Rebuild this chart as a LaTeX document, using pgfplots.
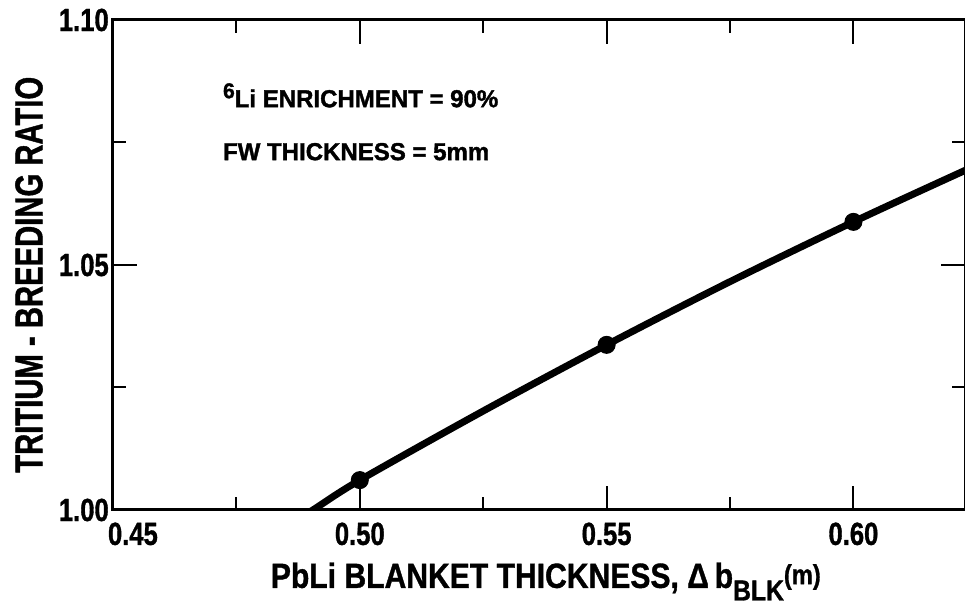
\documentclass[border=0pt]{standalone}
\usepackage{pgfplots}
\pgfplotsset{compat=1.18}
\usepackage{fontspec}
\setmainfont{Liberation Sans}[FakeStretch=0.75, BoldFeatures={FakeBold=1}]
\newfontfamily\tickfont{Liberation Sans}[FakeStretch=0.8, BoldFeatures={FakeBold=1}]
\newfontfamily\xlabfont{Liberation Sans}[FakeStretch=0.86, BoldFeatures={FakeBold=1}]
\newfontfamily\notefont{Liberation Sans}[FakeStretch=0.98, BoldFeatures={FakeBold=1.5}]
\begin{document}
\begin{tikzpicture}
\path[use as bounding box] (-45.2pt,-38.4pt) rectangle (340.8pt,204pt);
\begin{axis}[
  at={(0,0)}, anchor=south west,
  width=340.8pt, height=196pt, scale only axis,
  xmin=0.45, xmax=0.6226, ymin=1.0, ymax=1.10,
  xtick={0.45,0.50,0.55,0.60},
  xticklabels={{\makebox[0pt][l]{\hspace{-2pt}0.45}},0.50,0.55,0.60},
  ytick={1.00,1.05,1.10},
  yticklabels={1.00,1.05,1.10},
  minor tick num=1,
  tick align=inside,
  major tick length=9.6pt, minor tick length=5.2pt,
  every tick/.style={black, line width=0.8pt},
  axis line style={line width=1.2pt},
  /pgf/number format/assume math mode=true,
  ticklabel style={font=\tickfont\fontsize{12.8}{14}\selectfont\bfseries},
  xticklabel style={yshift=-1.5pt},
  yticklabel style={inner sep=1.5pt},
  clip=true,
  xlabel={PbLi BLANKET THICKNESS, Δ\,b\raisebox{-5pt}{\fontsize{11.5}{12}\selectfont BLK}\raisebox{1.5pt}{\fontsize{11}{12}\selectfont(m)}},
  xlabel style={at={(axis description cs:0.508,-0.159)}, anchor=base, font=\xlabfont\fontsize{14}{16}\selectfont\bfseries},
  ylabel={TRITIUM - BREEDING RATIO},
  ylabel style={at={(axis description cs:-0.0986,0.48)}, anchor=center, rotate=0, font=\fontsize{15.6}{17}\selectfont\bfseries},
]
\addplot[black, line width=2.8pt, smooth, tension=0.5] coordinates {
  (0.4880,0.9985) (0.4905,1.0000) (0.5000,1.0061) (0.5250,1.0202) (0.5500,1.0337)
  (0.5750,1.0466) (0.6000,1.0588) (0.6226,1.0693) (0.6240,1.0699)
};
\addplot[only marks, mark=*, mark size=3.4pt, black] coordinates {
  (0.50,1.0061) (0.55,1.0337) (0.60,1.0588)
};
\node[anchor=base west, font=\notefont\fontsize{9.8}{11}\selectfont\bfseries, inner sep=0pt]
  at (axis cs:0.4722,1.0822) {\raisebox{3.6pt}{\fontsize{8.6}{10}\selectfont 6}Li ENRICHMENT = 90\%};
\node[anchor=base west, font=\notefont\fontsize{9.8}{11}\selectfont\bfseries, inner sep=0pt]
  at (axis cs:0.4722,1.0714) {FW THICKNESS = 5mm};
\end{axis}
\end{tikzpicture}
\end{document}
